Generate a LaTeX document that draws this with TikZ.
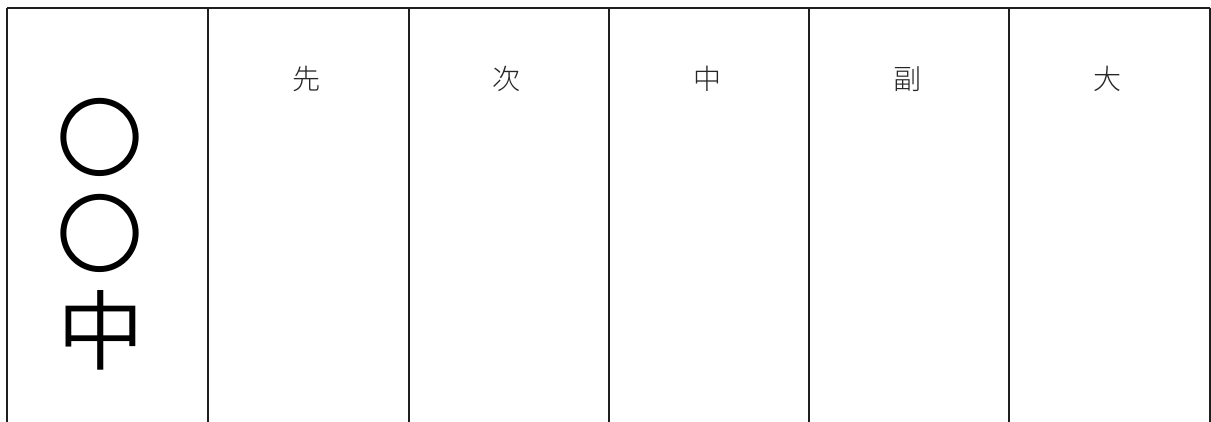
\documentclass[tikz,border=0pt]{standalone}
\usepackage{fontspec}
\newfontfamily\cjk{Noto Sans CJK JP Light}
\newfontfamily\cjkbig{Noto Sans CJK JP DemiLight}
\begin{document}
\begin{tikzpicture}[x=1pt,y=-1pt,
  rule/.style={line width=2pt,draw=black!88},
  head/.style={font=\cjk\fontsize{28}{30}\selectfont,inner sep=0pt,text=black!85},
  big/.style={font=\cjkbig\fontsize{87}{96}\selectfont,inner sep=0pt}]
\useasboundingbox[fill=white] (0,0) rectangle (1211,421);
% grid coordinates
\foreach \i/\x in {0/7,1/208,2/408.5,3/609,4/809,5/1009,6/1209.5}{
  \coordinate (t\i) at (\x,7.5);
  \coordinate (b\i) at (\x,422);
}
\draw[rule] (t0) -- (t6);
\foreach \i in {0,...,6}{\draw[rule] (t\i) -- (b\i);}
% headers
\node[head] (h1) at (306,79) {先};
\node[head] (h2) at (506.5,79) {次};
\node[head] (h3) at (707,79) {中};
\node[head] (h4) at (907,79) {副};
\node[head] (h5) at (1107,79) {大};
% vertical name
\node[big] (c1) at (100,137.5) {〇};
\node[big] (c2) at (100,233.5) {〇};
\node[big] (c3) at (101,330) {中};
\end{tikzpicture}
\end{document}
